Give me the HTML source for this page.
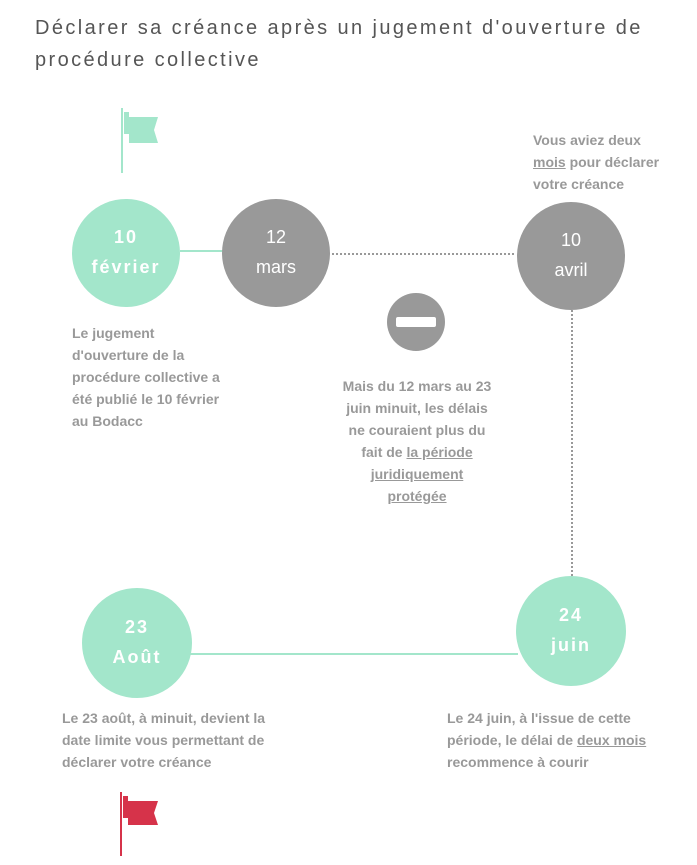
<!DOCTYPE html>
<html><head><meta charset="utf-8"><style>
body{margin:0;width:697px;height:865px;background:#fff;position:relative;overflow:hidden;font-family:"Liberation Sans",sans-serif;}
.t{position:absolute;left:35px;color:#555;font-size:20px;letter-spacing:2.4px;white-space:nowrap;}
.p{position:absolute;color:#999;font-weight:bold;font-size:14px;line-height:22px;white-space:nowrap;}
.p u{text-decoration:underline;}
.c{position:absolute;border-radius:50%;color:#fff;font-size:18px;line-height:30px;text-align:center;box-sizing:border-box;}
.c span{display:block;}
.g{background:#a3e6cb;font-weight:bold;letter-spacing:2px;}
.k{background:#999;}
</style></head><body>
<div class="t" style="top:17px">Déclarer sa créance après un jugement d'ouverture de</div>
<div class="t" style="top:49px">procédure collective</div>
<svg width="697" height="865" style="position:absolute;left:0;top:0">
<line x1="180" y1="251" x2="224" y2="251" stroke="#a3e6cb" stroke-width="2"/>
<line x1="332" y1="254" x2="516" y2="254" stroke="#999" stroke-width="2" stroke-dasharray="2,2"/>
<line x1="572" y1="310" x2="572" y2="576" stroke="#999" stroke-width="2" stroke-dasharray="2,2"/>
<line x1="190" y1="654" x2="518" y2="654" stroke="#a3e6cb" stroke-width="2"/>
<line x1="122" y1="108" x2="122" y2="173" stroke="#a3e6cb" stroke-width="2"/>
<rect x="124" y="112" width="5" height="22" fill="#a3e6cb"/>
<polygon points="129,117 158,117 154,130 158,143 129,143" fill="#a3e6cb"/>
<line x1="121" y1="792" x2="121" y2="856" stroke="#d6334a" stroke-width="2"/>
<rect x="123" y="796" width="5" height="22" fill="#d6334a"/>
<polygon points="128,801 158,801 154,813 158,825 128,825" fill="#d6334a"/>
<circle cx="416" cy="322" r="29" fill="#999"/>
<rect x="396" y="317" width="40" height="10" rx="2" fill="#fff"/>
</svg>
<div class="c g" style="left:72px;top:199px;width:108px;height:108px;padding-top:23px"><span>10</span><span>février</span></div>
<div class="c k" style="left:222px;top:199px;width:108px;height:108px;padding-top:23px"><span>12</span><span>mars</span></div>
<div class="c k" style="left:517px;top:202px;width:108px;height:108px;padding-top:23px"><span>10</span><span>avril</span></div>
<div class="c g" style="left:516px;top:576px;width:110px;height:110px;padding-top:24px"><span>24</span><span>juin</span></div>
<div class="c g" style="left:82px;top:588px;width:110px;height:110px;padding-top:24px"><span>23</span><span>Août</span></div>
<div class="p" style="left:72px;top:322px">Le jugement<br>d'ouverture de la<br>procédure collective a<br>été publié le 10 février<br>au Bodacc</div>
<div class="p" style="left:533px;top:129px">Vous aviez deux<br><u>mois</u> pour déclarer<br>votre créance</div>
<div class="p" style="left:317px;width:200px;top:375px;text-align:center">Mais du 12 mars au 23<br>juin minuit, les délais<br>ne couraient plus du<br>fait de <u>la période </u><br><u>juridiquement </u><br><u>protégée</u></div>
<div class="p" style="left:62px;top:707px">Le 23 août, à minuit, devient la<br>date limite vous permettant de<br>déclarer votre créance</div>
<div class="p" style="left:447px;top:707px">Le 24 juin, à l'issue de cette<br>période, le délai de <u>deux mois</u><br>recommence à courir</div>
</body></html>
